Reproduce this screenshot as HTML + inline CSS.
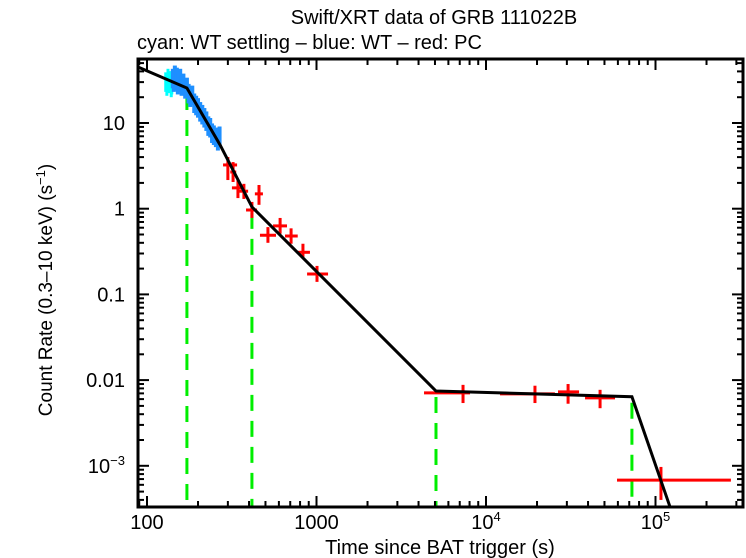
<!DOCTYPE html>
<html><head><meta charset="utf-8"><style>
html,body{margin:0;padding:0;background:#fff;}
svg{display:block;font-family:"Liberation Sans",sans-serif;}
</style></head><body>
<svg id="chart" width="746" height="558" viewBox="0 0 746 558" xmlns="http://www.w3.org/2000/svg">
<g id="plot"></g>
<text x="434" y="24" font-size="20" text-anchor="middle">Swift/XRT data of GRB 111022B</text>
<text x="137" y="49" font-size="20">cyan: WT settling – blue: WT – red: PC</text>
<text x="440" y="554" font-size="20" text-anchor="middle">Time since BAT trigger (s)</text>
<text transform="translate(52,290) rotate(-90)" font-size="19" text-anchor="middle">Count Rate (0.3–10 keV) (s<tspan font-size="13" dy="-7">−1</tspan><tspan dy="7">)</tspan></text>
</svg>
<script>
const cyanT=[129,131,133,135,137,139,140];
const cyanR=[30,27,33,29,31,26,28];
const blueT=[142,144,146,148,150,152,154,157,160,164,168,172,176,180,185,190,195,200,206,212,218,224,230,236,242,248,255,262,268];
const blueR=[33,30,36,31,34,28,30,33,27,29,25,26,22,20,21,17,16,15,13.5,12.5,11.5,10.5,9.2,8.8,7.6,7.2,6.8,6.2,7.0];
const pcT=[300,322,344,373,458,416,517,610,708,832,1007,7320,19450,30500,47100,107700];
const pcR=[3.24,2.68,1.75,1.6,1.49,0.966,0.49,0.63,0.48,0.31,0.173,0.0071,0.0069,0.0073,0.0062,0.00068];
const pcTlo=[281,310,317,350,433,384,464,554,652,767,880,4310,12100,26600,38400,59300];
const pcThi=[340,336,374,395,483,446,577,670,775,915,1170,8050,25500,35400,57700,278600];
const pcRlo=[2.16,2.05,1.33,1.3,1.11,0.78,0.40,0.51,0.39,0.27,0.14,0.0054,0.0054,0.0053,0.0047,0.00040];
const pcRhi=[4.01,3.5,2.16,1.95,1.89,1.2,0.61,0.78,0.59,0.39,0.215,0.0088,0.0086,0.0090,0.0077,0.00097];
const modelT=[88.5,172,270,416,5070,72600,121900];
const modelR=[45,25.6,5.54,1.05,0.00746,0.0064,0.00033];
const breakT=[172,416,5070,72600];
const xTickVals=[100,1000,10000,100000];
const xTickLabels=["100","1000","10^4","10^5"];
const yTickVals=[10,1,0.1,0.01,0.001];
const yTickLabels=["10","1","0.1","0.01","10^−3"];

const L=138,R=743,T=59,B=507;
const xmin=Math.log10(88.5),xmax=Math.log10(88.5)+(R-L)/169.5;
const ymax=1+64/85.7,ymin=ymax-(B-T)/85.7;
const X=t=>L+(Math.log10(t)-xmin)/(xmax-xmin)*(R-L);
const Y=r=>T+(ymax-Math.log10(r))/(ymax-ymin)*(B-T);
const NS="http://www.w3.org/2000/svg";
const g=document.getElementById('plot');
function mk(tag,attrs){const e=document.createElementNS(NS,tag);for(const k in attrs)e.setAttribute(k,attrs[k]);g.appendChild(e);return e;}
function line(x1,y1,x2,y2,c,w){return mk('line',{x1,y1,x2,y2,stroke:c,'stroke-width':w});}

breakT.forEach((t,i)=>{
  let r=modelR[0];for(let k=0;k<modelT.length-1;k++){if(t>=modelT[k]&&t<=modelT[k+1]){const f=(Math.log10(t)-Math.log10(modelT[k]))/(Math.log10(modelT[k+1])-Math.log10(modelT[k]));r=Math.pow(10,Math.log10(modelR[k])+f*(Math.log10(modelR[k+1])-Math.log10(modelR[k])));}}
  const e=line(X(t),Y(r)+6,X(t),B,'#00ee00',3);
  e.setAttribute('stroke-dasharray','16,10');
  
  
});
cyanT.forEach((t,i)=>{
  const e=line(X(t),Y(cyanR[i]*1.3),X(t),Y(cyanR[i]/1.3),'#00ffff',3);
  
  
});
blueT.forEach((t,i)=>{
  const e=line(X(t),Y(blueR[i]*1.3),X(t),Y(blueR[i]/1.3),'#1e8fff',4);
  
  
});
pcT.forEach((t,i)=>{
  const e1=line(X(pcTlo[i]),Y(pcR[i]),X(pcThi[i]),Y(pcR[i]),'#ff0000',3);
  
  
  const e2=line(X(t),Y(pcRhi[i]),X(t),Y(pcRlo[i]),'#ff0000',3);
  
  
});
const m=mk('polyline',{points:modelT.map((t,i)=>X(t)+','+Y(modelR[i])).join(' '),fill:'none',stroke:'#000','stroke-width':3});


const cov=mk('rect',{x:L,y:B,width:R-L,height:4,fill:'#fff'});


const fr=mk('rect',{x:L,y:T,width:R-L,height:B-T,fill:'none',stroke:'#000','stroke-width':3});


for(let d=1;d<=5;d++){for(let k=1;k<10;k++){const t=k*Math.pow(10,d);const x=X(t);if(x<L||x>R)continue;const len=k==1?11:6;
  line(x,B,x,B-len,'#000',2);line(x,T,x,T+len,'#000',2);}}
xTickVals.forEach((v,i)=>{
  const lab=xTickLabels[i];const e=mk('text',{x:X(v),y:529,'font-size':20,'text-anchor':'middle'});
  if(lab.includes('^')){const p=lab.split('^');e.textContent=p[0];const s=document.createElementNS(NS,'tspan');s.setAttribute('font-size','13');s.setAttribute('dy','-8');s.textContent=p[1];e.appendChild(s);}else e.textContent=lab;
  
  
});
for(let d=-4;d<=1;d++){for(let k=1;k<10;k++){const r=k*Math.pow(10,d);const y=Y(r);if(y<T||y>B)continue;const len=k==1?11:6;
  line(L,y,L+len,y,'#000',2);line(R,y,R-len,y,'#000',2);}}
yTickVals.forEach((v,i)=>{
  const lab=yTickLabels[i];const e=mk('text',{x:125,y:Y(v)+7,'font-size':20,'text-anchor':'end'});
  if(lab.includes('^')){const p=lab.split('^');e.textContent=p[0];const s=document.createElementNS(NS,'tspan');s.setAttribute('font-size','13');s.setAttribute('dy','-8');s.textContent=p[1];e.appendChild(s);}else e.textContent=lab;
  
  
});
</script>
</body></html>
